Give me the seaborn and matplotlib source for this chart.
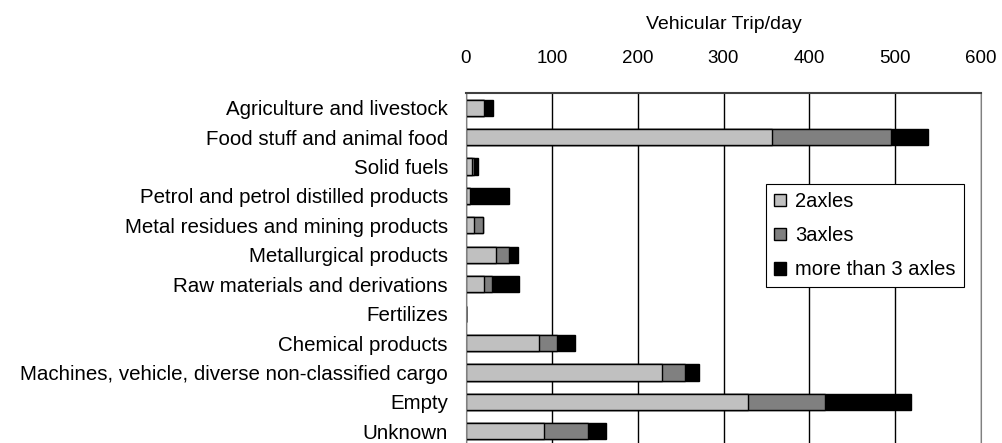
import pandas as pd
import matplotlib.pyplot as plt
import numpy as np
import seaborn as sns
from matplotlib.patches import Patch

categories = ["Agriculture and livestock", "Food stuff and animal food", "Solid fuels",
              "Petrol and petrol distilled products", "Metal residues and mining products",
              "Metallurgical products", "Raw materials and derivations", "Fertilizes",
              "Chemical products", "Machines, vehicle, diverse non-classified cargo",
              "Empty", "Unknown"]
axles2 = [21, 357, 7, 5, 9, 35, 21, 0, 85, 228, 329, 91]
axles3 = [0, 138, 2, 0, 11, 15, 9, 0, 21, 27, 89, 51]
axles_more = [11, 43, 5, 45, 0, 10, 32, 0, 21, 17, 101, 21]
series = ["2axles", "3axles", "more than 3 axles"]
colors = ["#c0c0c0", "#808080", "#000000"]

sns.set_style("white")
plt.rcParams['font.family'] = ['Liberation Sans', 'DejaVu Sans']
plt.rcParams['text.color'] = 'black'
plt.rcParams['xtick.color'] = 'black'
plt.rcParams['ytick.color'] = 'black'
plt.rcParams['axes.labelcolor'] = 'black'

df = pd.DataFrame({"cat": categories, "a2": axles2, "a3": axles3, "am": axles_more})
df["c1"] = df["a2"]
df["c2"] = df["a2"] + df["a3"]
df["c3"] = df["c2"] + df["am"]

fig = plt.figure(figsize=(10.03, 4.43), dpi=100)
ax = fig.add_axes([466 / 1003, -3 / 443, 515 / 1003, 353 / 443])

# stacked look: draw cumulative totals from the back
for col, c in zip(["c3", "c2", "c1"], colors[::-1]):
    sns.barplot(data=df, x=col, y="cat", color=c, ax=ax, width=0.55,
                edgecolor="black", linewidth=1, saturation=1, orient="h")

ax.set_xlim(0, 600)
ax.set_xticks(range(0, 601, 100))
ax.xaxis.tick_top()
ax.xaxis.set_label_position("top")
ax.set_xlabel("Vehicular Trip/day", fontsize=14, labelpad=15)
ax.set_ylabel("")
ax.tick_params(axis="x", length=0, pad=19, labelsize=13.5)
ax.tick_params(axis="y", length=0, pad=13, labelsize=14.8)
ax.set_yticks(np.arange(-0.5, len(categories), 1), minor=True)
ax.tick_params(axis="y", which="minor", length=6, direction="in", color="#555555")
ax.grid(axis="x", color="black", linewidth=1)
ax.set_axisbelow(True)
for s in ["left", "right"]:
    ax.spines[s].set_color("#808080")
ax.spines["top"].set_color("#404040")
ax.spines["top"].set_linewidth(1.5)
ax.spines["bottom"].set_visible(False)

handles = [Patch(facecolor=c, edgecolor="black", label=s) for s, c in zip(series, colors)]
leg = ax.legend(handles=handles, loc="upper left", bbox_to_anchor=(766 / 1003, 1 - 184 / 443),
                bbox_transform=fig.transFigure, borderaxespad=0,
                frameon=True, fancybox=False, fontsize=14.5, handlelength=0.6, handleheight=0.6,
                handletextpad=0.45, labelspacing=0.75, borderpad=0.4, framealpha=1)
leg.get_frame().set_edgecolor("black")
leg.get_frame().set_linewidth(0.8)

fig.savefig("out.png", dpi=100)
